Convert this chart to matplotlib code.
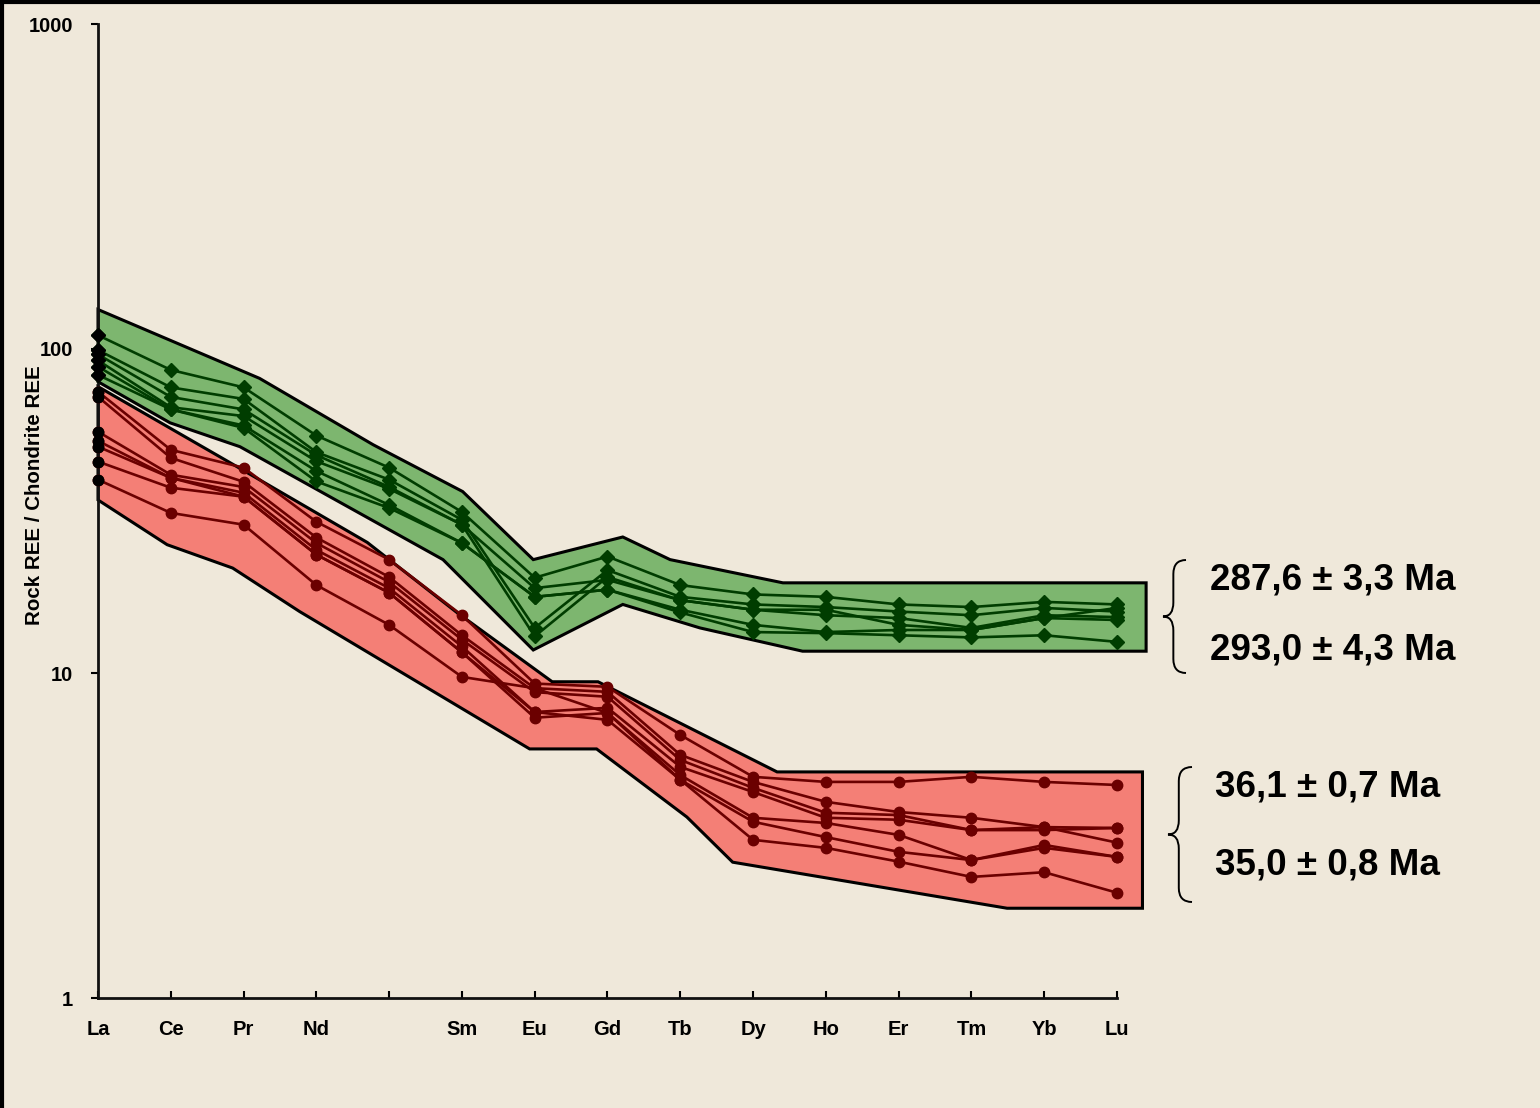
import matplotlib
matplotlib.use('Agg')
import matplotlib.pyplot as plt
from matplotlib.path import Path
from matplotlib.patches import PathPatch, Polygon
from matplotlib.lines import Line2D

plt.rcParams['font.family'] = ['Liberation Sans', 'DejaVu Sans']

# REE order (Pm has no label)
elements = ['La', 'Ce', 'Pr', 'Nd', '', 'Sm', 'Eu', 'Gd', 'Tb', 'Dy', 'Ho', 'Er', 'Tm', 'Yb', 'Lu']

# Permian samples (green, diamonds)
green_1 = [110, 86, 76, 54, 43, 31.4, 19.7, 22.9, 18.7, 17.5, 17.2, 16.3, 16.0, 16.6, 16.3]
green_2 = [99, 76, 70, 48, 39.5, 29.7, 13.8, 20.8, 17.2, 16.3, 16.0, 15.5, 15.1, 15.9, 15.5]
green_3 = [96, 71, 65, 47, 37.5, 28.7, 13.0, 19.8, 16.8, 15.7, 15.1, 14.8, 13.8, 15.1, 14.9]
green_4 = [92, 66, 62, 45, 37, 28.7, 18.3, 19.4, 16.8, 15.7, 15.7, 14.1, 13.6, 14.8, 15.9]
green_5 = [88, 65, 58, 42, 33, 25.2, 17.2, 18.1, 15.7, 14.1, 13.4, 13.6, 13.6, 14.8, 14.6]
green_6 = [83, 65, 57, 39, 32.3, 25.2, 17.2, 18.1, 15.4, 13.4, 13.3, 13.1, 12.9, 13.1, 12.5]

# Eocene samples (red, circles)
red_1 = [73.7, 48.8, 43.0, 29.3, 22.4, 15.1, 9.3, 9.09, 6.46, 4.80, 4.63, 4.63, 4.80, 4.63, 4.53]
red_2 = [71.1, 46.1, 38.9, 26.2, 19.8, 13.1, 9.0, 8.77, 5.61, 4.63, 4.02, 3.74, 3.59, 3.36, 3.34]
red_3 = [55.5, 40.9, 37.5, 25.2, 19.1, 12.7, 8.75, 8.47, 5.41, 4.44, 3.72, 3.66, 3.29, 3.29, 3.34]
red_4 = [52.0, 40.0, 36.0, 24.0, 18.3, 12.1, 7.6, 7.83, 5.15, 4.31, 3.59, 3.54, 3.29, 3.36, 3.01]
red_5 = [49.9, 40.0, 35.0, 23.2, 17.7, 11.6, 7.3, 7.55, 4.86, 3.59, 3.46, 3.18, 2.66, 2.96, 2.72]
red_6 = [44.9, 37.3, 35.0, 23.2, 17.7, 11.6, 7.6, 7.19, 4.70, 3.49, 3.13, 2.82, 2.66, 2.90, 2.72]
red_7 = [39.5, 31.2, 28.7, 18.7, 14.1, 9.75, 9.0, 7.55, 4.70, 3.07, 2.90, 2.63, 2.36, 2.44, 2.11]

# envelope outlines (x in element index units)
green_env_x = [0, 2.22, 3.78, 5.01, 5.98, 7.21, 7.86, 9.41, 14.4, 14.4, 9.68, 8.27, 7.21, 5.98, 4.74, 1.95, 0.99, 0]
green_env_y = [132, 81, 50.6, 36.3, 22.4, 26.3, 22.4, 19.0, 19.0, 11.7, 11.7, 13.8, 16.3, 11.8, 22.4, 49.9, 59.1, 79.1]
red_env_x = [0, 1.91, 3.70, 4.93, 6.24, 6.87, 9.33, 14.35, 14.35, 12.49, 8.72, 8.09, 6.85, 5.93, 2.77, 1.85, 0.95, 0]
red_env_y = [76.4, 43.3, 25.3, 15.4, 9.42, 9.42, 4.97, 4.97, 1.89, 1.89, 2.62, 3.61, 5.85, 5.85, 15.5, 21.1, 24.9, 34.2]

ages_green = ['287,6 ± 3,3 Ma', '293,0 ± 4,3 Ma']
ages_red = ['36,1 ± 0,7 Ma', '35,0 ± 0,8 Ma']

bg = '#efe8da'
W, H = 1540, 1108
fig = plt.figure(figsize=(W / 100, H / 100), dpi=100, facecolor=bg)
ax = fig.add_axes([98 / W, 1 - 998 / H, (1117 - 98) / W, (998 - 24) / H], facecolor=bg)

x = list(range(len(elements)))

ax.add_patch(Polygon(list(zip(red_env_x, red_env_y)), closed=True, facecolor='#f47f76',
                     edgecolor='black', lw=2.2, clip_on=False, zorder=1))
ax.add_patch(Polygon(list(zip(green_env_x, green_env_y)), closed=True, facecolor='#7db66f',
                     edgecolor='black', lw=2.2, clip_on=False, zorder=1))

for s in [green_1, green_2, green_3, green_4, green_5, green_6]:
    ax.plot(x, s, color='#003d00', lw=1.9, marker='D', ms=7.5, zorder=3, clip_on=False)
    ax.plot(x[0], s[0], color='black', marker='D', ms=7.5, zorder=4, clip_on=False)

for s in [red_1, red_2, red_3, red_4, red_5, red_6, red_7]:
    ax.plot(x, s, color='#6b0000', lw=1.9, marker='o', ms=7.5, zorder=3, clip_on=False)
    ax.plot(x[0], s[0], color='black', marker='o', ms=7.5, zorder=4, clip_on=False)

# few dark markers along the upper red edge
for i in [2, 4, 7]:
    ax.plot(x[i], red_1[i], color='black', marker='o', ms=6.5, zorder=2)

ax.set_yscale('log')
ax.set_ylim(1, 1000)
ax.set_xlim(0, 14)
ax.set_yticks([1, 10, 100, 1000])
ax.set_yticklabels(['1', '10', '100', '1000'], fontsize=14.5, fontweight='bold')
ax.minorticks_off()
ax.set_xticks(x)
ax.set_xticklabels(elements, fontsize=14.5, fontweight='bold')
ax.tick_params(axis='x', direction='in', length=5, width=1.5, pad=16)
ax.tick_params(axis='y', direction='out', length=5, width=1.5, pad=13)
for side in ['top', 'right']:
    ax.spines[side].set_visible(False)
for side in ['left', 'bottom']:
    ax.spines[side].set_linewidth(2)
    ax.spines[side].set_color('#111111')

fig.text(35 / W, 1 - 495 / H, 'Rock REE / Chondrite REE', rotation=90, ha='center', va='center',
         fontsize=14.8, fontweight='bold')

# age labels
for txt, yy in zip(ages_green, [580, 650]):
    fig.text(1210 / W, 1 - yy / H, txt, fontsize=26.5, fontweight='bold', va='center', ha='left')
for txt, yy in zip(ages_red, [787, 865]):
    fig.text(1215 / W, 1 - yy / H, txt, fontsize=26.5, fontweight='bold', va='center', ha='left')


def brace(x_tip, y_top, y_bot, x_end, r=14):
    xm = x_tip + (x_end - x_tip) * 0.45
    ym = (y_top + y_bot) / 2
    pts = [(x_end, y_top), (xm, y_top), (xm, y_top + r), (xm, ym - r),
           (xm, ym), (x_tip, ym), (xm, ym), (xm, ym + r), (xm, y_bot - r),
           (xm, y_bot), (x_end, y_bot)]
    codes = [Path.MOVETO, Path.CURVE3, Path.CURVE3, Path.LINETO,
             Path.CURVE3, Path.CURVE3, Path.CURVE3, Path.CURVE3, Path.LINETO,
             Path.CURVE3, Path.CURVE3]
    pts = [(px / W, 1 - py / H) for px, py in pts]
    fig.patches.append(PathPatch(Path(pts, codes), transform=fig.transFigure,
                                 fill=False, lw=1.4, edgecolor='black'))


brace(1163, 560, 673, 1186)
brace(1168, 767, 902, 1192)

# frame on left and top edges
fig.lines.append(Line2D([2 / W, 2 / W], [0, 1], transform=fig.transFigure, color='black', lw=3))
fig.lines.append(Line2D([0, 1], [1 - 2 / H, 1 - 2 / H], transform=fig.transFigure, color='black', lw=3))

fig.savefig('out.png', dpi=100, facecolor=bg)
